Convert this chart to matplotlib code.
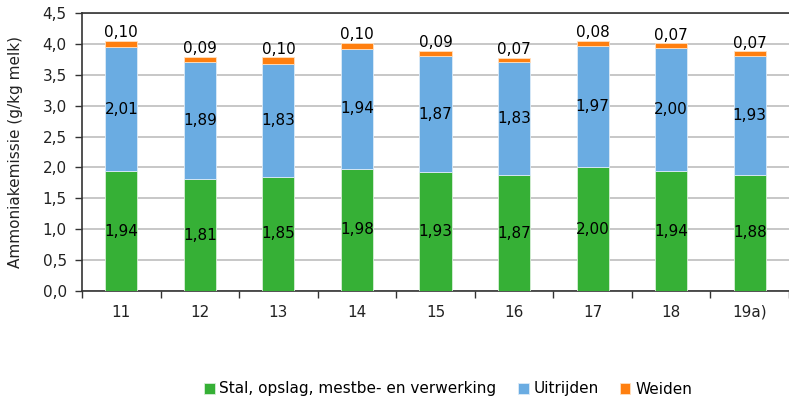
import matplotlib.pyplot as plt
import numpy as np

YEARS = ['11', '12', '13', '14', '15', '16', '17', '18', '19a)']
STAL = [1.94, 1.81, 1.85, 1.98, 1.93, 1.87, 2.00, 1.94, 1.88]
UITRIJDEN = [2.01, 1.89, 1.83, 1.94, 1.87, 1.83, 1.97, 2.00, 1.93]
WEIDEN = [0.10, 0.09, 0.10, 0.10, 0.09, 0.07, 0.08, 0.07, 0.07]

GREEN = '#36B036'
BLUE = '#6AACE2'
ORANGE = '#FF7F0F'
FS = 11


def fmt(v):
    return f'{v:.2f}'.replace('.', ',')


def main():
    plt.rcParams['font.family'] = ['DejaVu Sans']
    fig = plt.figure(figsize=(7.89, 4.0), dpi=100)
    ax = fig.add_axes([82 / 789, 1 - 291 / 400, 707 / 789, 278 / 400])

    x = np.arange(len(YEARS))
    stal = np.array(STAL)
    uit = np.array(UITRIJDEN)
    wei = np.array(WEIDEN)
    w = 0.41
    ax.bar(x, stal, w, color=GREEN, edgecolor='#D8EED8', linewidth=0.6,
           label='Stal, opslag, mestbe- en verwerking', zorder=3)
    ax.bar(x, uit, w, bottom=stal, color=BLUE, edgecolor='#DCEBF8',
           linewidth=0.6, label='Uitrijden', zorder=3)
    ax.bar(x, wei, w, bottom=stal + uit, color=ORANGE, edgecolor='#FFE0C0',
           linewidth=0.6, label='Weiden', zorder=3)

    for i in range(len(YEARS)):
        ax.text(x[i], stal[i] / 2, fmt(stal[i]), ha='center', va='center',
                fontsize=FS, color='black', zorder=4)
        ax.text(x[i], stal[i] + uit[i] / 2, fmt(uit[i]), ha='center',
                va='center', fontsize=FS, color='black', zorder=4)
        ax.text(x[i], stal[i] + uit[i] + wei[i] + 0.01, fmt(wei[i]),
                ha='center', va='bottom', fontsize=FS, color='black', zorder=4)

    ax.set_xlim(-0.5, len(YEARS) - 0.5)
    ax.set_ylim(0, 4.5)
    yt = np.arange(0, 4.51, 0.5)
    ax.set_yticks(yt)
    ax.set_yticklabels([f'{v:.1f}'.replace('.', ',') for v in yt],
                       fontsize=FS, color='#222222')
    ax.yaxis.grid(True, color='#BEBEBE', linewidth=1.2, zorder=0)
    ax.set_axisbelow(True)

    ax.set_xticks(x)
    ax.set_xticklabels(YEARS, fontsize=FS, color='#222222')
    ax.tick_params(axis='x', which='major', length=0, pad=10)
    ax.set_xticks(np.arange(-0.5, len(YEARS), 1.0), minor=True)
    ax.tick_params(axis='x', which='minor', length=5, width=1, color='#333333',
                   direction='out')
    ax.tick_params(axis='y', length=5, width=1, color='#333333', pad=6)

    for side in ('left', 'bottom', 'top'):
        ax.spines[side].set_color('#333333')
        ax.spines[side].set_linewidth(1.2)
    ax.spines['right'].set_visible(False)

    ax.set_ylabel('Ammoniakemissie (g/kg melk)', fontsize=FS, labelpad=14,
                  color='#222222')

    fig.legend(loc='center', bbox_to_anchor=(448 / 789, 1 - 389 / 400),
               ncol=3, frameon=False, fontsize=FS, handlelength=0.7,
               handleheight=0.7, handletextpad=0.3, columnspacing=1.4)

    fig.savefig('out.png', dpi=100)
    plt.close(fig)


main()
